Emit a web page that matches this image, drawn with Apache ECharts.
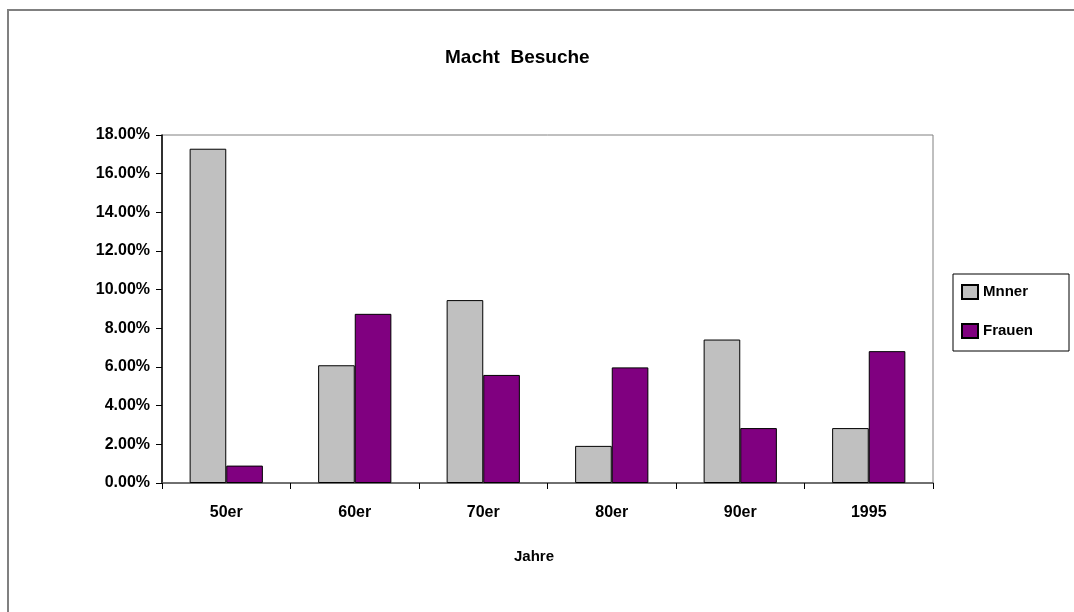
<!DOCTYPE html>
<html>
<head>
<meta charset="utf-8">
<script src="https://cdn.jsdelivr.net/npm/echarts@6/dist/echarts.min.js"></script>
<style>
  html, body { margin: 0; padding: 0; background: #fff; }
  #chart { width: 1074px; height: 612px; }
</style>
</head>
<body>
<div id="chart"></div>
<script>
// Share of visits by decade, per gender (percent)
const categories = ['50er', '60er', '70er', '80er', '90er', '1995'];
const maenner = [17.29, 6.09, 9.46, 1.92, 7.42, 2.84];
const frauen = [0.90, 8.75, 5.59, 5.98, 2.84, 6.82];
const seriesNames = ['Mnner', 'Frauen'];
const yTicks = { min: 0, max: 18, interval: 2 };

const FONT = '"Liberation Sans", Arial, sans-serif';

const chart = echarts.init(document.getElementById('chart'), null, { renderer: 'canvas' });

chart.setOption({
  backgroundColor: '#ffffff',
  animation: false,
  textStyle: { fontFamily: FONT },
  title: {
    text: 'Macht  Besuche',
    left: 440,
    top: 43,
    textStyle: { fontFamily: FONT, fontSize: 19, fontWeight: 'bold', color: '#000' }
  },
  legend: {
    orient: 'vertical',
    left: 953,
    top: 274,
    padding: [10, 36, 12, 8],
    itemWidth: 16,
    itemHeight: 14,
    itemGap: 23,
    borderColor: '#000',
    borderWidth: 1,
    icon: 'rect',
    data: seriesNames,
    textStyle: { fontFamily: FONT, fontSize: 15, fontWeight: 'bold', color: '#000' }
  },
  grid: {
    left: 162,
    right: 141,
    top: 135,
    bottom: 129,
    show: true,
    borderColor: '#808080',
    borderWidth: 1,
    containLabel: false
  },
  xAxis: {
    type: 'category',
    data: categories,
    axisLine: { show: true, lineStyle: { color: '#555', width: 1.5 } },
    axisTick: { show: true, length: 6, lineStyle: { color: '#000' } },
    axisLabel: { margin: 22, fontFamily: FONT, fontSize: 16, fontWeight: 'bold', color: '#000' }
  },
  yAxis: {
    type: 'value',
    min: yTicks.min,
    max: yTicks.max,
    interval: yTicks.interval,
    splitLine: { show: false },
    axisLine: { show: true, lineStyle: { color: '#000', width: 1.5 } },
    axisTick: { show: true, length: 6, lineStyle: { color: '#000' } },
    axisLabel: {
      margin: 12,
      fontFamily: FONT, fontSize: 16, fontWeight: 'bold', color: '#000',
      formatter: v => v.toFixed(2) + '%'
    }
  },
  graphic: [
    {
      type: 'rect',
      shape: { x: 8, y: 10, width: 1200, height: 800 },
      style: { fill: 'none', stroke: '#808080', lineWidth: 2 },
      silent: true
    },
    {
      type: 'text',
      left: 514,
      top: 549,
      style: { text: 'Jahre', font: 'bold 15px ' + FONT, fill: '#000' }
    }
  ],
  series: [
    {
      name: seriesNames[0],
      type: 'bar',
      data: maenner,
      barGap: '0%',
      barCategoryGap: '43%',
      itemStyle: { color: '#C0C0C0', borderColor: '#000', borderWidth: 1 }
    },
    {
      name: seriesNames[1],
      type: 'bar',
      data: frauen,
      itemStyle: { color: '#800080', borderColor: '#000', borderWidth: 1 }
    }
  ]
});
</script>
</body>
</html>
